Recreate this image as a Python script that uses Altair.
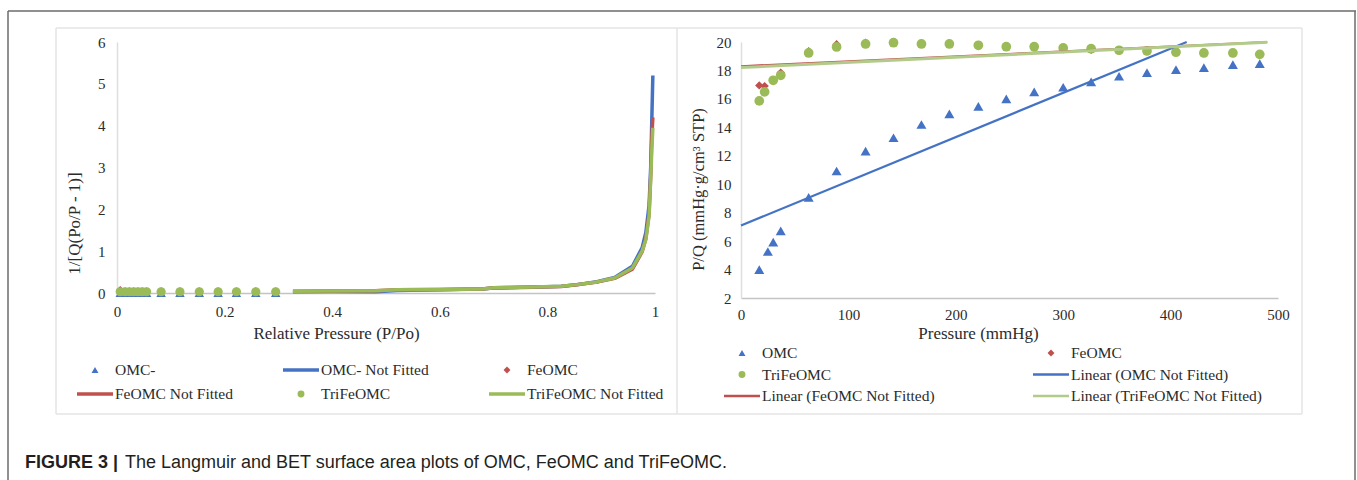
import altair as alt
import pandas as pd

BLUE = "#4472C4"
RED = "#C0504D"
GREEN = "#9BBB59"
LIGHT_GREEN = "#B3CB8A"
TEXT = "#2B2B2B"
SERIF = "Liberation Serif"

# ---------------- Left panel (Langmuir) ----------------
left_pts_x = [0.006, 0.015, 0.023, 0.031, 0.039, 0.047, 0.055, 0.082, 0.117, 0.153, 0.188, 0.222, 0.258, 0.295]
left_omc_pts_y = [0.0, 0.0, 0.0, 0.0, 0.0, 0.0, 0.0, 0.0, 0.0, 0.0, 0.0, 0.0, 0.0, 0.0]
left_feomc_pts_y = [0.07, 0.04, 0.04, 0.04, 0.04, 0.04, 0.04, 0.04, 0.04, 0.04, 0.04, 0.04, 0.04, 0.04]
left_trifeomc_pts_y = [0.03, 0.03, 0.03, 0.03, 0.03, 0.03, 0.03, 0.03, 0.03, 0.03, 0.03, 0.03, 0.03, 0.03]

left_line_x = [0.327, 0.40, 0.481, 0.52, 0.60, 0.679, 0.70, 0.774, 0.826, 0.855, 0.892, 0.925, 0.958, 0.976, 0.983, 0.989, 0.992, 0.994, 0.996]
left_omc_line_y = [0.03, 0.035, 0.03, 0.06, 0.08, 0.095, 0.12, 0.14, 0.16, 0.20, 0.27, 0.37, 0.64, 1.08, 1.45, 2.1, 3.0, 4.1, 5.2]
left_feomc_line_y = [0.04, 0.045, 0.055, 0.08, 0.085, 0.096, 0.125, 0.142, 0.158, 0.195, 0.26, 0.35, 0.57, 0.98, 1.3, 1.9, 2.8, 3.7, 4.2]
left_trifeomc_line_y = [0.04, 0.045, 0.056, 0.08, 0.085, 0.096, 0.128, 0.144, 0.16, 0.20, 0.265, 0.36, 0.60, 1.0, 1.28, 1.84, 2.73, 3.4, 3.95]

left_x_ticks = [0, 0.2, 0.4, 0.6, 0.8, 1]
left_y_ticks = [0, 1, 2, 3, 4, 5, 6]

left_legend_labels = ["OMC-", "OMC- Not Fitted", "FeOMC", "FeOMC Not Fitted", "TriFeOMC", "TriFeOMC Not Fitted"]
left_legend_col = [0, 1, 2, 0, 1, 2]
left_legend_row = [0, 0, 0, 1, 1, 1]
left_legend_kind = ["triangle-up", "line", "diamond", "line", "circle", "line"]
left_legend_color = [BLUE, BLUE, RED, RED, GREEN, GREEN]

# ---------------- Right panel (BET) ----------------
right_omc_x = [17, 25, 30, 37, 63, 89, 116, 142, 168, 194, 221, 247, 273, 300, 326, 352, 378, 405, 431, 458, 483]
right_omc_y = [4.0, 5.27, 5.93, 6.72, 9.08, 10.93, 12.33, 13.27, 14.2, 14.95, 15.47, 16.0, 16.49, 16.82, 17.2, 17.59, 17.85, 18.06, 18.2, 18.41, 18.48]
right_fe_x = [17, 22, 30, 37, 63, 89, 116, 142, 168, 194, 221, 247, 273, 300, 326, 352, 378, 405, 431, 458, 483]
right_feomc_y = [16.95, 16.9, 17.3, 17.85, 19.35, 19.85, 19.95, 20.0, 19.9, 19.9, 19.8, 19.7, 19.65, 19.48, 19.45, 19.4, 19.35, 19.3, 19.2, 19.2, 19.1]
right_trifeomc_y = [15.86, 16.49, 17.31, 17.66, 19.23, 19.65, 19.86, 19.95, 19.86, 19.86, 19.77, 19.67, 19.67, 19.58, 19.53, 19.42, 19.37, 19.28, 19.23, 19.23, 19.13]

right_omc_trend_x = [0, 415]
right_omc_trend_y = [7.1, 20.0]
right_feomc_trend_x = [0, 490]
right_feomc_trend_y = [18.3, 20.0]
right_trifeomc_trend_x = [0, 490]
right_trifeomc_trend_y = [18.2, 19.98]

right_x_ticks = [0, 100, 200, 300, 400, 500]
right_y_ticks = [2, 4, 6, 8, 10, 12, 14, 16, 18, 20]

right_legend_labels = ["OMC", "FeOMC", "TriFeOMC", "Linear (OMC Not Fitted)",
                       "Linear (FeOMC Not Fitted)", "Linear (TriFeOMC Not Fitted)"]
right_legend_col = [0, 1, 0, 1, 0, 1]
right_legend_row = [0, 0, 1, 1, 2, 2]
right_legend_kind = ["triangle-up", "diamond", "circle", "line", "line", "line"]
right_legend_color = [BLUE, RED, GREEN, BLUE, RED, LIGHT_GREEN]

caption_bold = "FIGURE 3 |"
caption_rest = "The Langmuir and BET surface area plots of OMC, FeOMC and TriFeOMC."

# ---------------- layout (pixels) ----------------
L_W, L_H = 538, 251
R_W, R_H = 537, 256
ORIGIN_X, ORIGIN_Y = 117, 42


def xy(xs, ys):
    return pd.DataFrame({"x": xs, "y": ys})


def make_axes(x_ticks, y_ticks, x_fmt, x_title, y_title, x_title_x, x_title_y, y_title_y,
              x_lab_pad, y_lab_pad, y_title_size):
    ax_x = alt.Axis(values=x_ticks, format=x_fmt, ticks=False, tickSize=0, grid=False,
                    domainColor="#C4C4C4", domainWidth=1.5,
                    labelFont=SERIF, labelFontSize=15, labelColor=TEXT, labelPadding=x_lab_pad,
                    labelFlush=False, labelOverlap=False,
                    title=x_title, titleFont=SERIF, titleFontSize=17, titleFontWeight="normal",
                    titleColor=TEXT, titleX=x_title_x, titleY=x_title_y, titleBaseline="middle",
                    titleAlign="center")
    ax_y = alt.Axis(values=y_ticks, format="d", ticks=False, tickSize=0, grid=False,
                    domainColor="#DEDEDE", domainWidth=1.5,
                    labelFont=SERIF, labelFontSize=15, labelColor=TEXT, labelPadding=y_lab_pad,
                    labelFlush=False, labelOverlap=False,
                    title=y_title, titleFont=SERIF, titleFontSize=y_title_size, titleFontWeight="normal",
                    titleColor=TEXT, titleX=-43, titleY=y_title_y, titleBaseline="middle",
                    titleAlign="center", titleAngle=270)
    return ax_x, ax_y


def data_layers(series, xscale, yscale, ax_x, ax_y):
    layers = []
    for df, kind, color, size, width in series:
        enc = dict(x=alt.X("x:Q", scale=xscale, axis=ax_x), y=alt.Y("y:Q", scale=yscale, axis=ax_y))
        if kind == "line":
            m = alt.Chart(df).mark_line(color=color, strokeWidth=width, strokeJoin="round", strokeCap="butt")
        else:
            m = alt.Chart(df).mark_point(shape=kind, filled=True, color=color, size=size, opacity=1)
        layers.append(m.encode(**enc))
    return alt.layer(*layers)


def legend_layers(labels, cols, rows, kinds, colors, col_range, row_range, ncol, nrow, line_w, font_size, dx):
    df = pd.DataFrame({"label": labels, "col": cols, "row": rows, "kind": kinds, "color": colors})
    xs = alt.Scale(domain=[0, ncol - 1], range=col_range)
    ys = alt.Scale(domain=[0, nrow - 1], range=row_range)
    base = alt.Chart(df).encode(
        x=alt.X("col:Q", scale=xs, axis=None),
        y=alt.Y("row:Q", scale=ys, axis=None),
    )
    pts = base.transform_filter("datum.kind != 'line'").mark_point(filled=True, size=48, opacity=1).encode(
        shape=alt.Shape("kind:N", scale=None, legend=None),
        color=alt.Color("color:N", scale=None, legend=None),
    )
    lines = base.transform_filter("datum.kind == 'line'").mark_rule(
        xOffset=-18, x2Offset=18, strokeWidth=line_w).encode(
        x2=alt.X2("col:Q"),
        color=alt.Color("color:N", scale=None, legend=None),
    )
    texts = base.mark_text(align="left", baseline="middle", dx=dx, font=SERIF,
                           fontSize=font_size, color=TEXT).encode(text="label:N")
    return alt.layer(pts, lines, texts)


def hrule(x1, x2, y, color, w):
    return alt.Chart(pd.DataFrame({"k": [0]})).mark_rule(color=color, strokeWidth=w).encode(
        x=alt.value(x1), x2=alt.value(x2), y=alt.value(y))


def vrule(x, y1, y2, color, w):
    return alt.Chart(pd.DataFrame({"k": [0]})).mark_rule(color=color, strokeWidth=w).encode(
        x=alt.value(x), y=alt.value(y1), y2=alt.value(y2))


# ----- left chart -----
lx_axis, ly_axis = make_axes(left_x_ticks, left_y_ticks, "~g", "Relative Pressure (P/Po)", "1/[Q(Po/P - 1)]",
                             219, 40, 181, 11, 12, 17)
left_series = [
    (xy(left_pts_x, left_omc_pts_y), "triangle-up", BLUE, 90, None),
    (xy(left_line_x, left_omc_line_y), "line", BLUE, None, 3.5),
    (xy(left_pts_x, left_feomc_pts_y), "diamond", RED, 70, None),
    (xy(left_line_x, left_feomc_line_y), "line", RED, None, 3.5),
    (xy(left_pts_x, left_trifeomc_pts_y), "circle", GREEN, 85, None),
    (xy(left_line_x, left_trifeomc_line_y), "line", GREEN, None, 3.5),
]
left_data = data_layers(left_series, alt.Scale(domain=[0, 1], nice=False, zero=False),
                        alt.Scale(domain=[0, 6], nice=False), lx_axis, ly_axis)
left_legend = legend_layers(left_legend_labels, left_legend_col, left_legend_row, left_legend_kind,
                            left_legend_color, [95 - ORIGIN_X, 507 - ORIGIN_X],
                            [370 - ORIGIN_Y, 394 - ORIGIN_Y], 3, 2, 3.5, 15.5, 20)

FRAME = "#6B6B6B"
BOX = "#E4E4E4"
ox, oy = ORIGIN_X, ORIGIN_Y
deco = alt.layer(
    hrule(8 - ox, 1356 - ox, 11 - oy, FRAME, 1.5),
    vrule(8 - ox, 11 - oy, 480 - oy, FRAME, 1.5),
    vrule(1355 - ox, 11 - oy, 480 - oy, FRAME, 1.5),
    hrule(56 - ox, 1302 - ox, 28 - oy, BOX, 1.5),
    hrule(56 - ox, 1302 - ox, 414 - oy, BOX, 1.5),
    vrule(56 - ox, 28 - oy, 414 - oy, BOX, 1.5),
    vrule(1302 - ox, 28 - oy, 414 - oy, BOX, 1.5),
    vrule(677 - ox, 28 - oy, 414 - oy, BOX, 1.5),
    alt.Chart(pd.DataFrame({"k": [0]})).mark_text(
        text=caption_bold, align="left", baseline="middle", font="Liberation Sans",
        fontSize=18, fontWeight="bold", color="#231F20").encode(x=alt.value(25 - ox), y=alt.value(463 - oy)),
    alt.Chart(pd.DataFrame({"k": [0]})).mark_text(
        text=caption_rest, align="left", baseline="middle", font="Liberation Sans",
        fontSize=18, color="#231F20").encode(x=alt.value(125 - ox), y=alt.value(463 - oy)),
)

left = alt.layer(deco, left_data, left_legend).resolve_scale(x="independent", y="independent").properties(
    width=L_W, height=L_H)

# ----- right chart -----
R_OX = 741
rx_axis, ry_axis = make_axes(right_x_ticks, right_y_ticks, "d", "Pressure (mmHg)", "P/Q (mmHg·g/cm³  STP)",
                             237, 35, 147, 9, 10, 16.5)
right_series = [
    (xy(right_omc_x, right_omc_y), "triangle-up", BLUE, 100, None),
    (xy(right_fe_x, right_feomc_y), "diamond", RED, 70, None),
    (xy(right_fe_x, right_trifeomc_y), "circle", GREEN, 95, None),
    (xy(right_omc_trend_x, right_omc_trend_y), "line", BLUE, None, 2.2),
    (xy(right_feomc_trend_x, right_feomc_trend_y), "line", RED, None, 2),
    (xy(right_trifeomc_trend_x, right_trifeomc_trend_y), "line", LIGHT_GREEN, None, 3),
]
right_data = data_layers(right_series, alt.Scale(domain=[0, 500], nice=False),
                         alt.Scale(domain=[2, 20], nice=False, zero=False), rx_axis, ry_axis)
right_legend = legend_layers(right_legend_labels, right_legend_col, right_legend_row, right_legend_kind,
                             right_legend_color, [742 - R_OX, 1051 - R_OX],
                             [353 - ORIGIN_Y, 396 - ORIGIN_Y], 2, 3, 2.5, 15.5, 20)
right = alt.layer(right_data, right_legend).resolve_scale(x="independent", y="independent").properties(
    width=R_W, height=R_H)

# With autosize "none" the concat root has no size of its own, so the padding
# spans the whole 1357x480 canvas while the content starts at (ORIGIN_X, ORIGIN_Y).
chart = alt.hconcat(left, right, spacing=R_OX - (ORIGIN_X + L_W), bounds="flush").properties(
    autosize=alt.AutoSizeParams(type="none"),
    padding={"left": ORIGIN_X, "top": ORIGIN_Y, "right": 1357 - ORIGIN_X, "bottom": 480 - ORIGIN_Y},
    background="white",
).configure_view(stroke=None).configure_axis(
    titleFont=SERIF, labelFont=SERIF, titleFontWeight="normal"
).configure_text(font=SERIF)

chart.save("out.html", embed_options={"renderer": "svg", "actions": False})
